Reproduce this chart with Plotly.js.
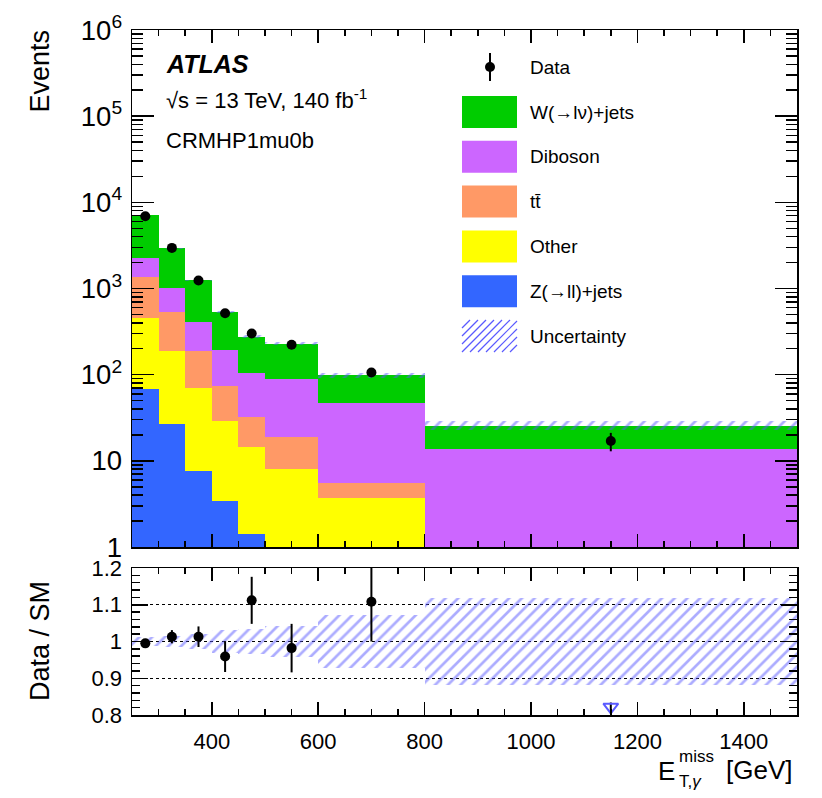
<!DOCTYPE html>
<html>
<head>
<meta charset="utf-8">
<script src="https://cdn.plot.ly/plotly-3.0.1.min.js"></script>
<style>body{margin:0;background:#fff}</style>
</head>
<body>
<div id="plot" style="width:822px;height:798px"></div>
<script>
// bin edges in GeV
var edges = [250, 300, 350, 400, 450, 500, 600, 800, 1500];

// expected events per process
var zjets   = [68, 27, 7.6, 3.4, 1.4, 0.6, 0.3, 0.1];
var other   = [383, 161, 62, 25.8, 13.0, 7.5, 3.4, 0.3];
var ttbar   = [900, 350, 117, 44, 18, 10.7, 1.8, 0.2];
var diboson = [925, 467, 218, 119, 72, 69.5, 41.5, 13.0];
var wjets   = [4855, 1921, 840, 346, 172, 140, 51, 12];

// observed data
var data_y   = [6900, 2960, 1240, 515, 300, 222, 106, 17];
var data_err = [83, 54, 35, 23, 17, 15, 10, 4.1];

// relative uncertainty on the total prediction
var unc_rel = [0.013, 0.016, 0.021, 0.030, 0.035, 0.043, 0.073, 0.118];

// data / SM (first 7 bins), last bin is off scale -> arrow
var ratio     = [0.995, 1.013, 1.013, 0.959, 1.112, 0.982, 1.108];
var ratio_err = [0.008, 0.018, 0.028, 0.042, 0.064, 0.066, 0.108];
var arrow_x = [1150];
var arrow_y = [0.822];

var font = 'Liberation Sans, Arial, Helvetica, sans-serif';
var hatchCol = 'rgb(90,90,255)';

// bin centres and widths
var centers = [], widths = [];
for (var i = 0; i < edges.length - 1; i++) {
  centers.push((edges[i] + edges[i + 1]) / 2);
  widths.push(edges[i + 1] - edges[i]);
}

// stack, bottom first
var procs = [
  {name: 'Z(\u2192ll)+jets', vals: zjets, color: '#3366ff'},
  {name: 'Other', vals: other, color: '#ffff00'},
  {name: 'tt\u0304', vals: ttbar, color: '#ff9966'},
  {name: 'Diboson', vals: diboson, color: '#cc66ff'},
  {name: 'W(\u2192l\u03bd)+jets', vals: wjets, color: '#00cc00'}
];
var cum = [];
var run = zjets.map(function () { return 0; });
procs.forEach(function (p) {
  run = run.map(function (v, j) { return v + p.vals[j]; });
  cum.push(run.slice());
});
var total = cum[cum.length - 1];

var traces = [];
// draw the tallest layer first so the lower ones sit on top
for (var k = procs.length - 1; k >= 0; k--) {
  traces.push({
    type: 'bar', x: centers, y: cum[k], width: widths,
    marker: {color: procs[k].color, line: {width: 0}},
    xaxis: 'x', yaxis: 'y', showlegend: false, hoverinfo: 'skip'
  });
}

var hatch = {shape: '/', fgcolor: hatchCol, bgcolor: 'rgba(0,0,0,0)', size: 9, solidity: 0.3, fillmode: 'overlay'};

// uncertainty band on the total
traces.push({
  type: 'bar', x: centers, width: widths,
  base: total.map(function (t, j) { return t * (1 - unc_rel[j]); }),
  y: total.map(function (t, j) { return t * 2 * unc_rel[j]; }),
  marker: {color: 'rgba(0,0,0,0)', line: {width: 0}, pattern: hatch},
  xaxis: 'x', yaxis: 'y', showlegend: false, hoverinfo: 'skip'
});

// data points
traces.push({
  type: 'scatter', mode: 'markers', x: centers, y: data_y,
  marker: {color: '#000', size: 10},
  error_y: {type: 'data', array: data_err, color: '#000', thickness: 2, width: 0},
  xaxis: 'x', yaxis: 'y', showlegend: false
});

// ratio panel: uncertainty band
traces.push({
  type: 'bar', x: centers, width: widths,
  base: unc_rel.map(function (e) { return 1 - e; }),
  y: unc_rel.map(function (e) { return 2 * e; }),
  marker: {color: 'rgba(0,0,0,0)', line: {width: 0}, pattern: hatch},
  xaxis: 'x2', yaxis: 'y2', showlegend: false, hoverinfo: 'skip'
});

traces.push({
  type: 'scatter', mode: 'markers', x: centers.slice(0, ratio.length), y: ratio,
  marker: {color: '#000', size: 10},
  error_y: {type: 'data', array: ratio_err, color: '#000', thickness: 2, width: 0},
  xaxis: 'x2', yaxis: 'y2', showlegend: false, cliponaxis: true
});

traces.push({
  type: 'scatter', mode: 'markers', x: arrow_x, y: arrow_y,
  marker: {symbol: 'triangle-down-open', color: hatchCol, size: 13, line: {width: 2, color: hatchCol}},
  error_y: {type: 'data', array: [0.012], color: '#000', thickness: 2, width: 0},
  xaxis: 'x2', yaxis: 'y2', showlegend: false
});

// pixel -> paper helpers (plot area 132..797 x 30..715)
var L = 132, R = 797, T = 30, B = 715;
function px(x) { return (x - L) / (R - L); }
function py(y) { return (B - y) / (B - T); }

var shapes = [], annotations = [];

function txt(x, y, text, size, anchor, extra) {
  var a = {xref: 'paper', yref: 'paper', x: px(x), y: py(y), text: text, showarrow: false,
    xanchor: anchor || 'left', yanchor: 'middle', font: {family: font, size: size, color: '#000'}};
  for (var key in extra) a[key] = extra[key];
  annotations.push(a);
}

// labels
txt(164, 64, '<b><i>ATLAS</i></b>', 25);
txt(164, 99, '\u221As = 13 TeV, 140 fb<sup>-1</sup>', 22);
txt(164, 141, 'CRMHP1mu0b', 22);

txt(40, 28, 'Events', 27, 'center', {textangle: -90, yanchor: 'top'});
txt(40, 641, 'Data / SM', 27, 'center', {textangle: -90});

// x title, built from pieces so sub and sup stack
txt(656, 771, 'E', 26);
txt(677, 756, 'miss', 17);
txt(677, 781, 'T,<i>\u03b3</i>', 17);
txt(724, 770, '[GeV]', 26);

// legend
var legX0 = 462, legX1 = 517, textX = 528;
shapes.push({type: 'line', xref: 'paper', yref: 'paper', x0: px(490), x1: px(490), y0: py(53), y1: py(81),
  line: {color: '#000', width: 2}});
shapes.push({type: 'circle', xref: 'paper', yref: 'paper', x0: px(485), x1: px(495), y0: py(62), y1: py(72),
  fillcolor: '#000', line: {color: '#000', width: 0}});
txt(textX, 68, 'Data', 19);

var legOrder = [4, 3, 2, 1, 0];
legOrder.forEach(function (k, r) {
  var top = 96 + r * 44.8;
  shapes.push({type: 'rect', xref: 'paper', yref: 'paper', x0: px(legX0), x1: px(legX1), y0: py(top + 32), y1: py(top),
    fillcolor: procs[k].color, line: {width: 0}});
  txt(textX, top + 16, procs[k].name, 19);
});

// hatched legend entry
var hTop = 96 + 5 * 44.8, hH = 32, hW = legX1 - legX0, step = 8;
for (var c = -hH; c < hW; c += step) {
  var xs = Math.max(c, 0), xe = Math.min(c + hH, hW);
  if (xe <= xs) continue;
  shapes.push({type: 'line', xref: 'paper', yref: 'paper',
    x0: px(legX0 + xs), y0: py(hTop + hH - (xs - c)),
    x1: px(legX0 + xe), y1: py(hTop + hH - (xe - c)),
    line: {color: hatchCol, width: 1.2}});
}
txt(textX, hTop + 16, 'Uncertainty', 19);

var axBase = {showline: true, linecolor: '#000', linewidth: 1.5, mirror: 'ticks', ticks: 'inside',
  tickcolor: '#000', tickwidth: 1.5, showgrid: false, zeroline: false};

function merge(a, b) { var o = {}; for (var k in a) o[k] = a[k]; for (var k2 in b) o[k2] = b[k2]; return o; }

var layout = {
  width: 822, height: 798,
  margin: {l: L, r: 822 - R, t: T, b: 798 - B},
  paper_bgcolor: '#fff', plot_bgcolor: '#fff',
  font: {family: font, color: '#000'},
  barmode: 'overlay', bargap: 0,
  showlegend: false,
  xaxis: merge(axBase, {domain: [0, 1], anchor: 'y', range: [250, 1500], tick0: 0, dtick: 200, ticklen: 13,
    showticklabels: false, minor: {ticks: 'inside', ticklen: 6, dtick: 50, tick0: 0, tickcolor: '#000', tickwidth: 1.5}}),
  yaxis: merge(axBase, {domain: [(B - 547) / (B - T), 1], anchor: 'x', type: 'log', range: [0, 6], dtick: 1,
    ticklen: 22, exponentformat: 'power', tickfont: {size: 22}, ticklabelstandoff: 4,
    minor: {ticks: 'inside', ticklen: 11, tickcolor: '#000', tickwidth: 1.5}}),
  xaxis2: merge(axBase, {domain: [0, 1], anchor: 'y2', range: [250, 1500], tick0: 0, dtick: 200, ticklen: 13,
    tickfont: {size: 22}, ticklabelstandoff: 6,
    minor: {ticks: 'inside', ticklen: 6, dtick: 50, tick0: 0, tickcolor: '#000', tickwidth: 1.5}}),
  yaxis2: merge(axBase, {domain: [0, (B - 568) / (B - T)], anchor: 'x2', range: [0.8, 1.2], tick0: 0.8, dtick: 0.1,
    ticklen: 16, tickfont: {size: 22}, ticklabelstandoff: 4,
    showgrid: true, gridcolor: '#000', gridwidth: 1, griddash: 'dot',
    minor: {ticks: 'inside', ticklen: 8, dtick: 0.02, tick0: 0.8, tickcolor: '#000', tickwidth: 1.5}}),
  shapes: shapes,
  annotations: annotations
};

Plotly.newPlot('plot', traces, layout, {staticPlot: true});
</script>
</body>
</html>
